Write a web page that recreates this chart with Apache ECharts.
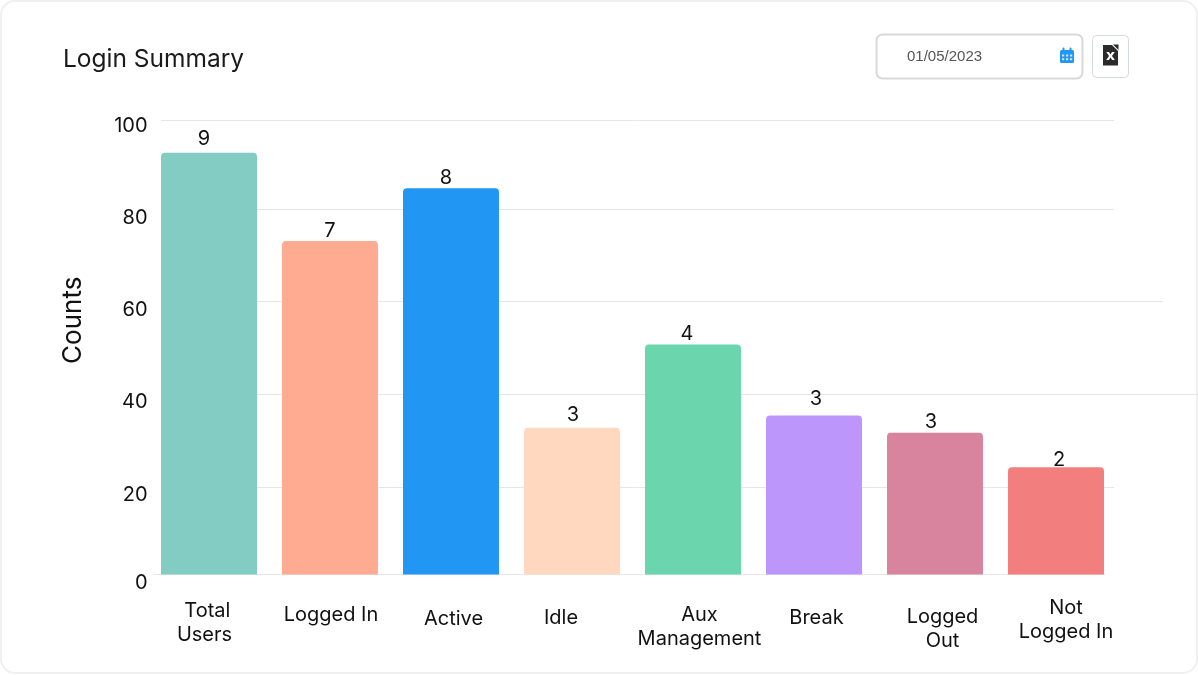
<!DOCTYPE html>
<html>
<head>
<meta charset="utf-8">
<style>html,body{margin:0;padding:0;background:#fff}#c{width:1198px;height:675px}</style>
<script src="https://cdn.jsdelivr.net/npm/echarts@6/dist/echarts.min.js"></script>
</head>
<body>
<div id="c"></div>
<script>
const categories = ['\u00a0Total\nUsers', 'Logged In', 'Active', 'Idle', 'Aux\nManagement', 'Break', 'Logged\nOut', 'Not\nLogged In'];
const barHeights = [92.8, 73.4, 85, 32.3, 50.6, 35, 31.2, 23.6];
const countLabels = [9, 7, 8, 3, 4, 3, 3, 2];
const barColors = ['#83CCC3', '#FFAB91', '#2196F3', '#FFD8BF', '#6BD5AE', '#BD96FB', '#D9849F', '#F27F7E'];
const yTicks = [0, 20, 40, 60, 80, 100];

const FONT = 'Inter';
const INK = '#111';
const labelNudges = [[-5, -1], [0, 3], [-5, 3], [1, 0], [-6, 2], [2, -3], [-4, 2], [3, 6]];
const catNudges = [
  {dx: -4.5, dy: 3},
  {dx: 1, dy: 7},
  {dx: 2.5, dy: 11},
  {dx: -11, dy: 10},
  {dx: 6.5, dy: 7},
  {dx: 2.5, dy: 10},
  {dx: 7.5, dy: 9},
  {dx: 10, dy: 0}
];
function pad(n) {
  return [n.dy, n.dx < 0 ? -2 * n.dx : 0, 0, n.dx > 0 ? 2 * n.dx : 0];
}
const catData = categories.map((c, i) => ({value: c, textStyle: {padding: pad(catNudges[i])}}));

// the reference's rules are hand-placed, not evenly spaced
const gridRules = [
  {v: 100, x1: 161, x2: 1114},
  {v: 80.4, x1: 161, x2: 1114},
  {v: 60.2, x1: 161, x2: 1163},
  {v: 39.7, x1: 161, x2: 1198},
  {v: 19.1, x1: 161, x2: 1114},
  {v: 0, x1: 153, x2: 1105}
];
const tickPad = {0: 16, 20: 22, 40: 19, 60: 17, 80: 14, 100: 12};
const rich = {};
yTicks.forEach(t => { rich['t' + t] = {padding: [tickPad[t], 0, 0, 0], fontFamily: FONT, fontSize: 20, color: INK, align: 'right'}; });

const chart = echarts.init(document.getElementById('c'), null, {renderer: 'canvas'});
chart.setOption({
  animation: false,
  backgroundColor: '#fff',
  grid: {left: 148.5, top: 120, width: 968, height: 454.5},
  title: {text: 'Login Summary', left: 58, top: 42, textStyle: {fontFamily: FONT, fontSize: 24.5, fontWeight: 400, color: '#1a1a1a'}},
  xAxis: {
    type: 'category',
    data: catData,
    axisLine: {show: false},
    axisTick: {show: false},
    axisLabel: {margin: 21, interval: 0, fontFamily: FONT, fontSize: 20, lineHeight: 24, color: INK, verticalAlign: 'top'}
  },
  yAxis: {
    type: 'value',
    min: 0, max: 100, interval: 20,
    name: 'Counts',
    nameLocation: 'middle',
    nameGap: 62.5,
    nameTextStyle: {fontFamily: FONT, fontSize: 26, color: INK, padding: [0, 0, 0, 54]},
    axisLine: {show: false},
    axisTick: {show: false},
    splitLine: {show: false},
    axisLabel: {margin: 1, formatter: v => `{t${v}|${v}}`, rich}
  },
  series: [
    {
      type: 'line', data: [], z: 1, silent: true,
      markLine: {
        silent: true, symbol: 'none', animation: false, z: 1,
        lineStyle: {color: '#e6e6e6', width: 1, type: 'solid'},
        label: {show: false},
        data: gridRules.map(r => [{x: r.x1, yAxis: r.v}, {x: r.x2, yAxis: r.v}])
      }
    },
    {
      type: 'bar', z: 3, barWidth: 96,
      data: barHeights.map((v, i) => ({
        value: v,
        itemStyle: {color: barColors[i], borderRadius: [4, 4, 0, 0]},
        label: {offset: labelNudges[i]}
      })),
      label: {
        show: true, position: 'top', distance: 3,
        formatter: p => String(countLabels[p.dataIndex]),
        fontFamily: FONT, fontSize: 20, color: INK
      }
    }
  ],
  graphic: [
    {type: 'rect', silent: true, z: -1, shape: {x: 1, y: 1, width: 1196, height: 672, r: 14}, style: {fill: '#fff', stroke: '#f0f0f0', lineWidth: 2}},
    {type: 'rect', shape: {x: 876.5, y: 34.5, width: 206, height: 44, r: 6}, style: {fill: '#fff', stroke: '#d9d9d9', lineWidth: 2}},
    {type: 'text', x: 907, y: 49, style: {text: '01/05/2023', fontFamily: 'Liberation Sans', fontSize: 15, fill: '#555'}},
    {type: 'rect', shape: {x: 1060, y: 50, width: 14, height: 13, r: 1.5}, style: {fill: '#2196F3'}},
    {type: 'rect', shape: {x: 1062.5, y: 47.5, width: 2, height: 4, r: 1}, style: {fill: '#2196F3'}},
    {type: 'rect', shape: {x: 1069.5, y: 47.5, width: 2, height: 4, r: 1}, style: {fill: '#2196F3'}},
    ...[0, 1, 2].flatMap(c => [0, 1].map(r => ({type: 'rect', shape: {x: 1062 + c * 4, y: 54.5 + r * 3.7, width: 2.2, height: 2}, style: {fill: '#cfe6fb'}}))),
    {type: 'rect', shape: {x: 1092.5, y: 35.5, width: 36, height: 42, r: 4}, style: {fill: '#fff', stroke: '#d5dae2', lineWidth: 1}},
    {type: 'polygon', shape: {points: [[1103, 45], [1112, 45], [1118, 51], [1118, 65.5], [1103, 65.5]]}, style: {fill: '#2b2b2b'}},
    {type: 'polygon', shape: {points: [[1113, 44.5], [1118.5, 44.5], [1118.5, 50]]}, style: {fill: '#2b2b2b'}},
    {type: 'text', x: 1106, y: 49, style: {text: 'x', fontFamily: 'DejaVu Sans', fontWeight: 'bold', fontSize: 14, fill: '#fff'}}
  ]
});
</script>
</body>
</html>
